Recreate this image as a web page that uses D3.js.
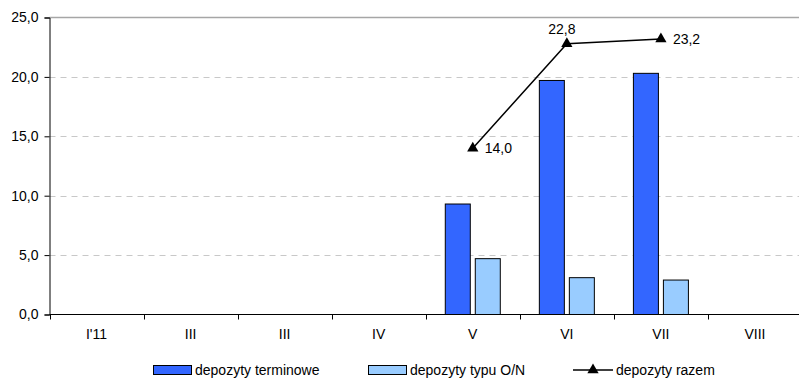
<!DOCTYPE html>
<html>
<head>
<meta charset="utf-8">
<script src="https://cdn.jsdelivr.net/npm/d3@7"></script>
<style>
  html, body { margin: 0; padding: 0; background: #fff; }
  svg { display: block; }
  text { font-family: "Liberation Sans", Arial, sans-serif; fill: #000; }
</style>
</head>
<body>
<svg id="chart" width="799" height="378"></svg>
<script>
// Monthly deposits, bn PLN
const categories = ["I'11", "III", "III", "IV", "V", "VI", "VII", "VIII"];
const termDeposits = [null, null, null, null, 9.3, 19.7, 20.3, null];
const overnightDeposits = [null, null, null, null, 4.7, 3.1, 2.9, null];
const totalDeposits = [null, null, null, null, 14.0, 22.8, 23.2, null];
const yTicks = [0, 5, 10, 15, 20, 25];

const seriesNames = ["depozyty terminowe", "depozyty typu O/N", "depozyty razem"];
const colors = { term: "#3366FF", on: "#99CCFF" };

const svg = d3.select("#chart");
const margin = { left: 49.5, top: 17.5, right: 802, bottom: 314.5 };

const x = d3.scaleBand().domain(d3.range(categories.length))
  .range([margin.left, margin.right]).paddingInner(0).paddingOuter(0);
const y = d3.scaleLinear().domain([0, 25]).range([margin.bottom, margin.top]);

const fmt = v => d3.format(".1f")(v).replace(".", ",");
const fontSize = 14;

// gridlines
svg.append("g").selectAll("line")
  .data(yTicks.filter(t => t > 0 && t < 25))
  .join("line")
  .attr("x1", margin.left).attr("x2", margin.right)
  .attr("y1", d => Math.round(y(d)) + 0.5).attr("y2", d => Math.round(y(d)) + 0.5)
  .attr("stroke", "#c8c8c8").attr("stroke-dasharray", "6,5");

// top border of the plot area
svg.append("line")
  .attr("x1", margin.left).attr("x2", margin.right)
  .attr("y1", y(25)).attr("y2", y(25))
  .attr("stroke", "#a6a6a6").attr("stroke-width", 1.5);

// bars
const barW = 25, gap = 5;
const bars = svg.append("g");
categories.forEach((c, i) => {
  const cx = x(i) + x.bandwidth() / 2;
  if (termDeposits[i] != null) {
    bars.append("rect")
      .attr("x", cx - gap / 2 - barW).attr("width", barW)
      .attr("y", y(termDeposits[i])).attr("height", y(0) - y(termDeposits[i]))
      .attr("fill", colors.term).attr("stroke", "#000").attr("stroke-width", 1);
  }
  if (overnightDeposits[i] != null) {
    bars.append("rect")
      .attr("x", cx + gap / 2).attr("width", barW)
      .attr("y", y(overnightDeposits[i])).attr("height", y(0) - y(overnightDeposits[i]))
      .attr("fill", colors.on).attr("stroke", "#000").attr("stroke-width", 1);
  }
});

// axes
const yAxis = svg.append("g").attr("transform", `translate(${margin.left},0)`)
  .call(d3.axisLeft(y).tickValues(yTicks).tickSize(5).tickPadding(6).tickFormat(fmt));
yAxis.select(".domain").attr("stroke", "#000");
yAxis.selectAll("text").attr("font-size", fontSize).attr("font-family", "Liberation Sans, Arial, sans-serif");

const xAxis = svg.append("g").attr("transform", `translate(0,${margin.bottom})`)
  .call(d3.axisBottom(x).tickSize(0).tickPadding(15).tickFormat(i => categories[i]));
xAxis.select(".domain").remove();
xAxis.selectAll("text").attr("font-size", fontSize).attr("font-family", "Liberation Sans, Arial, sans-serif");
svg.append("line").attr("x1", margin.left).attr("x2", margin.right)
  .attr("y1", margin.bottom).attr("y2", margin.bottom).attr("stroke", "#000");
svg.append("g").selectAll("line")
  .data(d3.range(categories.length + 1))
  .join("line")
  .attr("x1", i => Math.round(margin.left + i * x.bandwidth()) + 0.5)
  .attr("x2", i => Math.round(margin.left + i * x.bandwidth()) + 0.5)
  .attr("y1", margin.bottom).attr("y2", margin.bottom + 5)
  .attr("stroke", "#000");

// total line with triangle markers
const pts = totalDeposits.map((v, i) => ({ i, v })).filter(d => d.v != null);
const line = d3.line().x(d => x(d.i) + x.bandwidth() / 2).y(d => y(d.v));
svg.append("path").datum(pts).attr("d", line)
  .attr("fill", "none").attr("stroke", "#000").attr("stroke-width", 1.5);
const tri = d3.symbol().type(d3.symbolTriangle).size(55);
svg.append("g").selectAll("path").data(pts).join("path")
  .attr("d", tri)
  .attr("transform", d => `translate(${x(d.i) + x.bandwidth() / 2},${y(d.v)})`)
  .attr("fill", "#000");

// value labels
const labelPos = [
  { dx: 12, dy: 5, anchor: "start" },
  { dx: -5, dy: -10, anchor: "middle" },
  { dx: 12, dy: 5, anchor: "start" }
];
svg.append("g").selectAll("text").data(pts).join("text")
  .attr("x", (d, k) => x(d.i) + x.bandwidth() / 2 + labelPos[k].dx)
  .attr("y", (d, k) => y(d.v) + labelPos[k].dy)
  .attr("text-anchor", (d, k) => labelPos[k].anchor)
  .attr("font-size", fontSize)
  .text(d => fmt(d.v));

// legend
const lg = svg.append("g");
const ly = 370;
lg.append("rect").attr("x", 153.5).attr("y", ly - 4.5).attr("width", 38).attr("height", 9)
  .attr("fill", colors.term).attr("stroke", "#000");
lg.append("text").attr("x", 195).attr("y", ly + 5).attr("font-size", fontSize).text(seriesNames[0]);
lg.append("rect").attr("x", 368.5).attr("y", ly - 4.5).attr("width", 38).attr("height", 9)
  .attr("fill", colors.on).attr("stroke", "#000");
lg.append("text").attr("x", 410).attr("y", ly + 5).attr("font-size", fontSize).text(seriesNames[1]);
lg.append("line").attr("x1", 573).attr("x2", 613).attr("y1", ly).attr("y2", ly)
  .attr("stroke", "#000").attr("stroke-width", 1.5);
lg.append("path").attr("d", tri).attr("transform", `translate(593,${ly})`).attr("fill", "#000");
lg.append("text").attr("x", 616).attr("y", ly + 5).attr("font-size", fontSize).text(seriesNames[2]);
</script>
</body>
</html>
